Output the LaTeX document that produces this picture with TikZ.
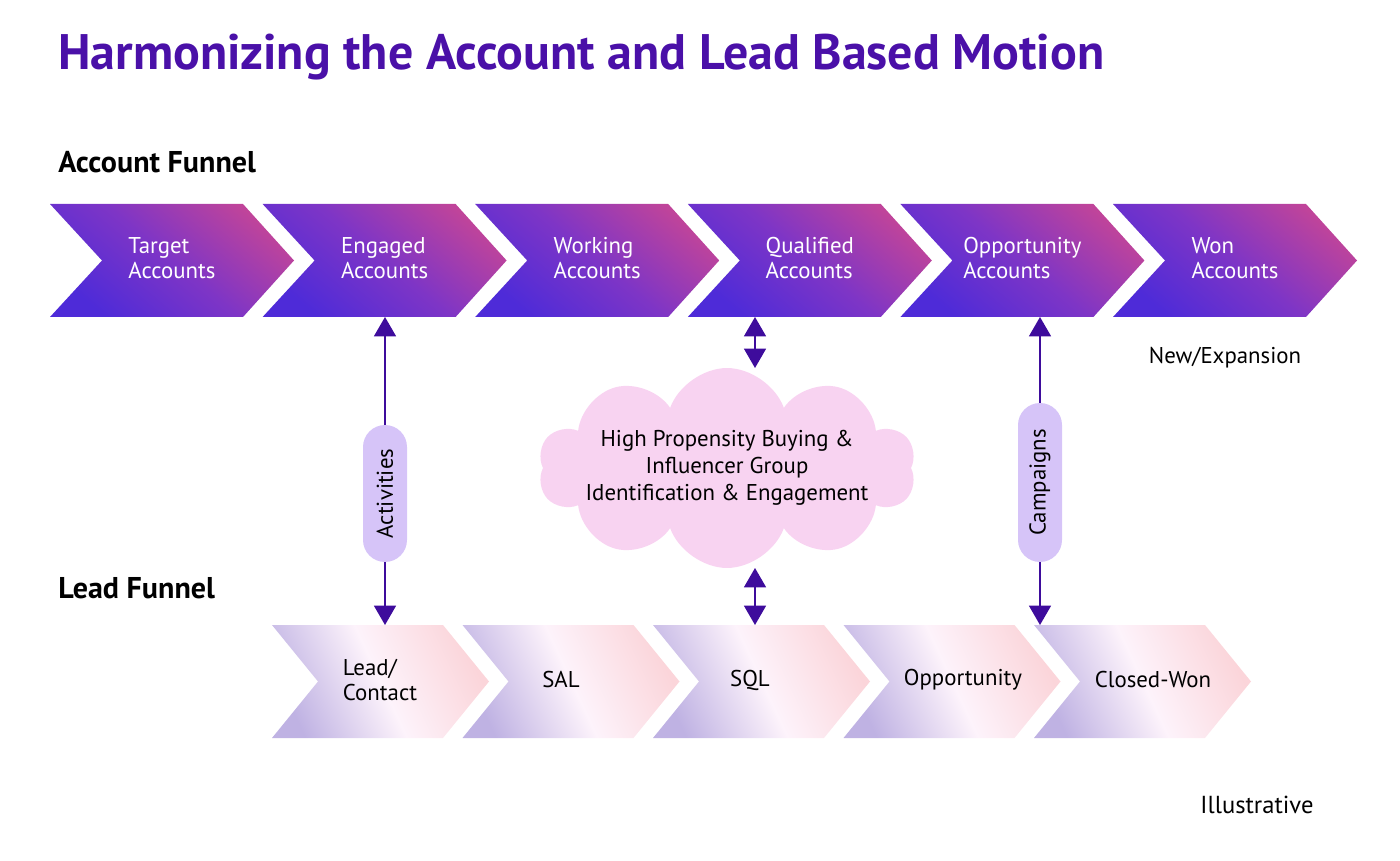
\documentclass[tikz,border=0pt]{standalone}
\usepackage{fontspec}
\setmainfont{PT Sans}
\usetikzlibrary{shapes.symbols,arrows.meta}

\definecolor{titlepurple}{HTML}{4A10A8}
\definecolor{chevblue}{HTML}{4E2BD8}
\definecolor{chevmid}{HTML}{7E35C6}
\definecolor{chevpink}{HTML}{C0449A}
\definecolor{leadlav}{HTML}{BFB2E3}
\definecolor{leadwhite}{HTML}{FDF3FB}
\definecolor{leadpink}{HTML}{FBD5DA}
\definecolor{cloudpink}{HTML}{F8D3F1}
\definecolor{pillfill}{HTML}{D6C4F8}
\definecolor{arrowpurple}{HTML}{3E0C9C}

\tikzset{
  accchev/.style={top color=chevpink, bottom color=chevblue, middle color=chevmid, shading angle=-40},
  leadchev/.style={left color=leadlav, right color=leadpink, middle color=leadwhite, shading angle=115},
  acctext/.style={text=white, align=left, font=\fontsize{13}{14.4}\selectfont},
  leadtext/.style={text=black, align=left, font=\fontsize{13}{14.4}\selectfont},
  heading/.style={anchor=west, inner sep=0pt, font=\bfseries\fontsize{17.1}{20}\selectfont},
  pill/.style={fill=pillfill, rounded corners=0.44cm, minimum height=0.88cm, inner sep=0pt, font=\fontsize{13}{14.4}\selectfont},
  link/.style={draw=arrowpurple, line width=0.85pt, arrows={-Triangle[width=12.5pt,length=11pt]}},
  dbllink/.style={link, arrows={Triangle[width=12.5pt,length=11pt]-Triangle[width=12.5pt,length=11pt]}},
  plain/.style={font=\fontsize{13}{15}\selectfont}
}

\begin{document}
\begin{tikzpicture}[x=0.02cm, y=-0.02cm]
	\useasboundingbox (0,0) rectangle (1400,861);

	\node[anchor=west, inner sep=0pt, text=titlepurple, font=\bfseries\fontsize{28.4}{32}\selectfont] (title) at (58,57) {Harmonizing the Account and Lead Based Motion};

	\node[heading] (accfunnel) at (58,162) {Account Funnel};
	\node[heading] (leadfunnel) at (58,588) {Lead Funnel};

	% account funnel
	\foreach \n/\first in {1/Target,2/Engaged,3/Working,4/Qualified,5/Opportunity,6/Won}{
		\pgfmathsetmacro{\xl}{50+212.6*(\n-1)}
		\shade[accchev] (\xl,204) -- ++(193,0) -- ++(51,56.5) -- ++(-51,56.5) -- ++(-193,0) -- ++(52,-56.5) -- cycle;
		\node[acctext] (acc\n) at (\xl+122,258) {\first\\Accounts};
		\coordinate (accb\n) at (\xl+122,317);
	}

	% lead funnel
	\foreach \n/\tx/\txt in {1/380/{Lead/\\Contact},2/561/SAL,3/750/SQL,4/963/Opportunity,5/1153/Closed-Won}{
		\pgfmathsetmacro{\xl}{272+190.5*(\n-1)}
		\shade[leadchev] (\xl,625) -- ++(171,0) -- ++(46,56.5) -- ++(-46,56.5) -- ++(-171,0) -- ++(46,-56.5) -- cycle;
		\node[leadtext] (lead\n) at (\tx,680) {\txt};
		\coordinate (leadt\n) at (\xl+108,625);
	}

	% cloud in the middle
	\node[cloud, cloud puffs=10, cloud puff arc=140, aspect=2, fill=cloudpink, minimum width=7.55cm, minimum height=4cm, inner sep=0pt] (group) at (727,468) {};
	\node[align=center, font=\fontsize{13}{15.3}\selectfont] (grouptext) at (group.center) {High Propensity Buying \&\\Influencer Group\\Identification \& Engagement};
	\coordinate (sqltop) at (755,625);
	\coordinate (cloudtop) at (755,368);
	\coordinate (cloudbot) at (755,568);

	\node[pill, minimum width=2.74cm, rotate=90] (activities) at (385,493.5) {Activities};
	\node[pill, minimum width=3.18cm, rotate=90] (campaigns) at (1040,482.5) {Campaigns};

	\draw[link] (activities.east) -- (activities |- accb2);
	\draw[link] (activities.west) -- (activities |- leadt1);
	\draw[link] (campaigns.east) -- (campaigns |- accb5);
	\draw[link] (campaigns.west) -- (campaigns |- leadt5);
	\draw[dbllink] (cloudtop |- accb4) -- (cloudtop);
	\draw[dbllink] (cloudbot) -- (sqltop);

	\node[plain] (newexp) at (1225,358) {New/Expansion};
	\node[plain, font=\fontsize{14}{16}\selectfont] (illus) at (1257,805) {Illustrative};
\end{tikzpicture}
\end{document}
